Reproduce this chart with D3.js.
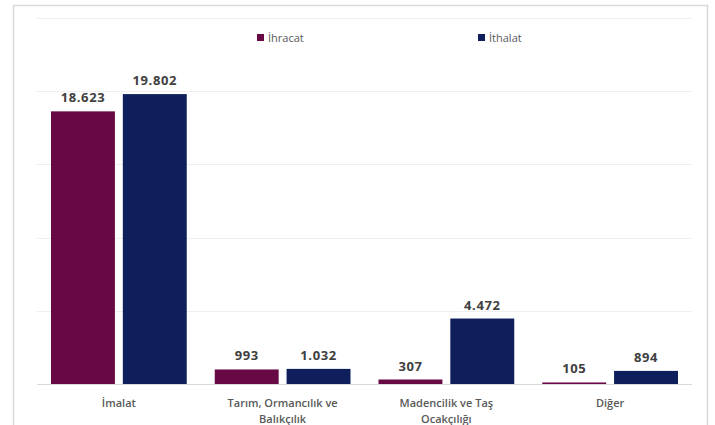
<!DOCTYPE html>
<html>
<head>
<meta charset="utf-8">
<script src="https://cdn.jsdelivr.net/npm/d3@7"></script>
<style>
  body { margin: 0; background: #fff; }
  text { font-family: "Open Sans", "DejaVu Sans", sans-serif; }
</style>
</head>
<body>
<div id="chart"></div>
<script>
// data
var categories = ["İmalat", "Tarım, Ormancılık ve|Balıkçılık", "Madencilik ve Taş|Ocakçılığı", "Diğer"]
var ihracat = [18623, 993, 307, 105]
var ithalat = [19802, 1032, 4472, 894]
var seriesNames = ["İhracat", "İthalat"]
var yTicks = [0, 5000, 10000, 15000, 20000, 25000]

var W = 715, H = 425
var margin = {top: 18, right: 23, bottom: 41, left: 37},
    width = W - margin.left - margin.right,
    height = H - margin.top - margin.bottom

var svg = d3.select("#chart").append("svg")
    .attr("width", W)
    .attr("height", H)

// outer frame
svg.append("rect")
    .attr("x", 13.5).attr("y", 5.5)
    .attr("width", 694).attr("height", 430)
    .attr("fill", "none")
    .attr("stroke", "#d9d9d9")
    .attr("stroke-width", 1.5)

var g = svg.append("g")
    .attr("transform", "translate(" + margin.left + "," + margin.top + ")")

var x = d3.scaleBand()
    .domain(categories)
    .range([0, width])
    .paddingInner(0)
    .paddingOuter(0)

var xSub = d3.scaleBand()
    .domain(seriesNames)
    .range([14, x.bandwidth() - 14])
    .paddingInner(0.11)

var y = d3.scaleLinear()
    .domain([0, 25000])
    .range([height, 0])

var color = d3.scaleOrdinal()
    .domain(seriesNames)
    .range(["#670945", "#0f1f5c"])

// gridlines
g.append("g")
    .selectAll("line")
    .data(yTicks)
    .enter().append("line")
    .attr("x1", 0).attr("x2", width)
    .attr("y1", function(d) { return Math.round(y(d)) + 0.5 })
    .attr("y2", function(d) { return Math.round(y(d)) + 0.5 })
    .attr("stroke", function(d) { return d === 0 ? "#d9d9d9" : "#efefef" })
    .attr("stroke-width", 1)

var rows = categories.map(function(c, i) {
    return {cat: c, values: [{key: "İhracat", value: ihracat[i]}, {key: "İthalat", value: ithalat[i]}]}
})

var groups = g.append("g")
    .selectAll("g")
    .data(rows)
    .enter().append("g")
    .attr("transform", function(d) { return "translate(" + x(d.cat) + ",0)" })

groups.selectAll("rect")
    .data(function(d) { return d.values })
    .enter().append("rect")
    .attr("x", function(d) { return xSub(d.key) })
    .attr("y", function(d) { return y(d.value) })
    .attr("width", xSub.bandwidth())
    .attr("height", function(d) { return height - y(d.value) })
    .attr("fill", function(d) { return color(d.key) })

// value labels
groups.selectAll("text.val")
    .data(function(d) { return d.values })
    .enter().append("text")
    .attr("class", "val")
    .attr("x", function(d) { return xSub(d.key) + xSub.bandwidth() / 2 })
    .attr("y", function(d) { return y(d.value) - 9 })
    .attr("text-anchor", "middle")
    .attr("fill", "#404040")
    .style("font-size", "13px")
    .style("font-weight", "bold")
    .style("letter-spacing", "0.6px")
    .text(function(d) { return d3.format(",")(d.value).replace(/,/g, ".") })

// category labels
var catText = g.append("g")
    .selectAll("text")
    .data(categories)
    .enter().append("text")
    .attr("x", function(d) { return x(d) + x.bandwidth() / 2 })
    .attr("y", height + 23)
    .attr("text-anchor", "middle")
    .attr("fill", "#595959")
    .style("font-size", "11px")
    .style("font-weight", "600")

catText.selectAll("tspan")
    .data(function(d) { return d.split("|") })
    .enter().append("tspan")
    .attr("x", function() { var p = this.parentNode.__data__; return x(p) + x.bandwidth() / 2 })
    .attr("dy", function(d, i) { return i === 0 ? 0 : 16 })
    .text(function(d) { return d })

// legend
var legendX = [257, 478]
var legend = svg.append("g")
    .selectAll("g")
    .data(seriesNames)
    .enter().append("g")
    .attr("transform", function(d, i) { return "translate(" + legendX[i] + ",34)" })

legend.append("rect")
    .attr("width", 7).attr("height", 7)
    .attr("fill", function(d) { return color(d) })

legend.append("text")
    .attr("x", 11).attr("y", 7.5)
    .attr("fill", "#595959")
    .style("font-size", "11px")
    .text(function(d) { return d })
</script>
</body>
</html>
